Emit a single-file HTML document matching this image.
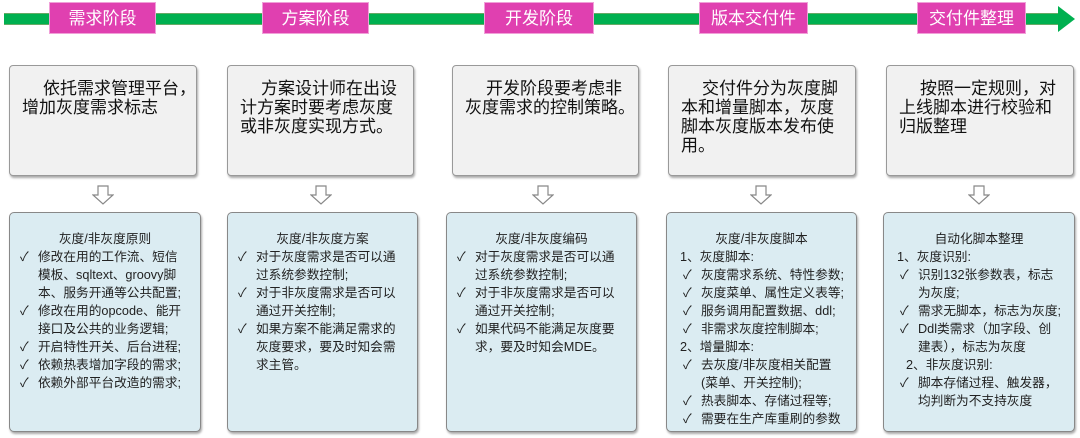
<!DOCTYPE html>
<html><head><meta charset="utf-8"><style>
*{margin:0;padding:0;box-sizing:border-box}
body{width:1080px;height:438px;background:#fff;position:relative;overflow:hidden;font-family:"Liberation Sans","Noto Sans CJK SC",sans-serif;color:#222}
.bar{position:absolute;left:4px;top:13px;width:1060px;height:12px;background:#00b050;border-top:1px solid #6a6;border-bottom:1px solid #6a6}
.head{position:absolute;left:1058px;top:6px;width:0;height:0;border-top:13px solid transparent;border-bottom:13px solid transparent;border-left:17px solid #00b050}
.pk{position:absolute;top:2px;height:32px;background:#e040b0;color:#fff;font-size:17px;line-height:32px;text-align:center;border:1px solid #f0a0d8}
.tb{position:absolute;top:65px;height:111px;background:#f1f1f1;border:1px solid #999;border-radius:4px;box-shadow:1px 2px 2px #aaa;font-size:17px;line-height:19px;padding:13px 0 0 12px;color:#111;white-space:nowrap}
.tb .i{display:inline-block;width:21px}
.ar{position:absolute;top:185px;width:22px;height:20px}
.bb{position:absolute;top:212px;height:220px;background:#dbecf2;border:1px solid #888;border-radius:5px;box-shadow:1px 2px 2px #aaa;font-size:12.7px;line-height:18px;padding-top:17px}
.bb .t{text-align:center}
.c{padding-left:28px;text-indent:-18px;white-space:nowrap}
.c:before{content:"✓";display:inline-block;width:18px;text-indent:0;text-align:left}
.n{padding-left:13px}
.c2{padding-left:34px;text-indent:-18px;white-space:nowrap}
.c2:before{content:"✓";display:inline-block;width:18px;text-indent:0}
</style></head><body>
<div class="bar"></div><div class="head"></div>
<div class="pk" style="left:49px;width:107px">需求阶段</div>
<div class="pk" style="left:262px;width:107px">方案阶段</div>
<div class="pk" style="left:484px;width:110px">开发阶段</div>
<div class="pk" style="left:699px;width:109px">版本交付件</div>
<div class="pk" style="left:917px;width:109px">交付件整理</div>

<div class="tb" style="left:9px;width:188px"><span class="i"></span>依托需求管理平台，<br>增加灰度需求标志</div>
<div class="tb" style="left:227px;width:187px"><span class="i"></span>方案设计师在出设<br>计方案时要考虑灰度<br>或非灰度实现方式。</div>
<div class="tb" style="left:452px;width:187px"><span class="i"></span>开发阶段要考虑非<br>灰度需求的控制策略。</div>
<div class="tb" style="left:668px;width:188px"><span class="i"></span>交付件分为灰度脚<br>本和增量脚本，灰度<br>脚本灰度版本发布使<br>用。</div>
<div class="tb" style="left:886px;width:188px"><span class="i"></span>按照一定规则，对<br>上线脚本进行校验和<br>归版整理</div>

<svg class="ar" style="left:92px" viewBox="0 0 22 20"><path d="M6 1H16V10H21L11 19L1 10H6Z" fill="#fff" stroke="#888" stroke-width="1.2"/></svg>
<svg class="ar" style="left:310px" viewBox="0 0 22 20"><path d="M6 1H16V10H21L11 19L1 10H6Z" fill="#fff" stroke="#888" stroke-width="1.2"/></svg>
<svg class="ar" style="left:532px" viewBox="0 0 22 20"><path d="M6 1H16V10H21L11 19L1 10H6Z" fill="#fff" stroke="#888" stroke-width="1.2"/></svg>
<svg class="ar" style="left:750px" viewBox="0 0 22 20"><path d="M6 1H16V10H21L11 19L1 10H6Z" fill="#fff" stroke="#888" stroke-width="1.2"/></svg>
<svg class="ar" style="left:968px" viewBox="0 0 22 20"><path d="M6 1H16V10H21L11 19L1 10H6Z" fill="#fff" stroke="#888" stroke-width="1.2"/></svg>

<div class="bb" style="left:9px;width:192px">
<div class="t">灰度/非灰度原则</div>
<div class="c">修改在用的工作流、短信<br>模板、sqltext、groovy脚<br>本、服务开通等公共配置;</div>
<div class="c">修改在用的opcode、能开<br>接口及公共的业务逻辑;</div>
<div class="c">开启特性开关、后台进程;</div>
<div class="c">依赖热表增加字段的需求;</div>
<div class="c">依赖外部平台改造的需求;</div>
</div>
<div class="bb" style="left:227px;width:191px">
<div class="t">灰度/非灰度方案</div>
<div class="c">对于灰度需求是否可以通<br>过系统参数控制;</div>
<div class="c">对于非灰度需求是否可以<br>通过开关控制;</div>
<div class="c">如果方案不能满足需求的<br>灰度要求，要及时知会需<br>求主管。</div>
</div>
<div class="bb" style="left:446px;width:191px">
<div class="t">灰度/非灰度编码</div>
<div class="c">对于灰度需求是否可以通<br>过系统参数控制;</div>
<div class="c">对于非灰度需求是否可以<br>通过开关控制;</div>
<div class="c">如果代码不能满足灰度要<br>求，要及时知会MDE。</div>
</div>
<div class="bb" style="left:666px;width:191px">
<div class="t">灰度/非灰度脚本</div>
<div class="n">1、灰度脚本:</div>
<div class="c2">灰度需求系统、特性参数;</div>
<div class="c2">灰度菜单、属性定义表等;</div>
<div class="c2">服务调用配置数据、ddl;</div>
<div class="c2">非需求灰度控制脚本;</div>
<div class="n">2、增量脚本:</div>
<div class="c2">去灰度/非灰度相关配置<br>(菜单、开关控制);</div>
<div class="c2">热表脚本、存储过程等;</div>
<div class="c2">需要在生产库重刷的参数</div>
</div>
<div class="bb" style="left:883px;width:192px">
<div class="t">自动化脚本整理</div>
<div class="n">1、灰度识别:</div>
<div class="c2">识别132张参数表，标志<br>为灰度;</div>
<div class="c2">需求无脚本，标志为灰度;</div>
<div class="c2">Ddl类需求（加字段、创<br>建表），标志为灰度</div>
<div class="n" style="padding-left:22px">2、非灰度识别:</div>
<div class="c2">脚本存储过程、触发器，<br>均判断为不支持灰度</div>
</div>
</body></html>
